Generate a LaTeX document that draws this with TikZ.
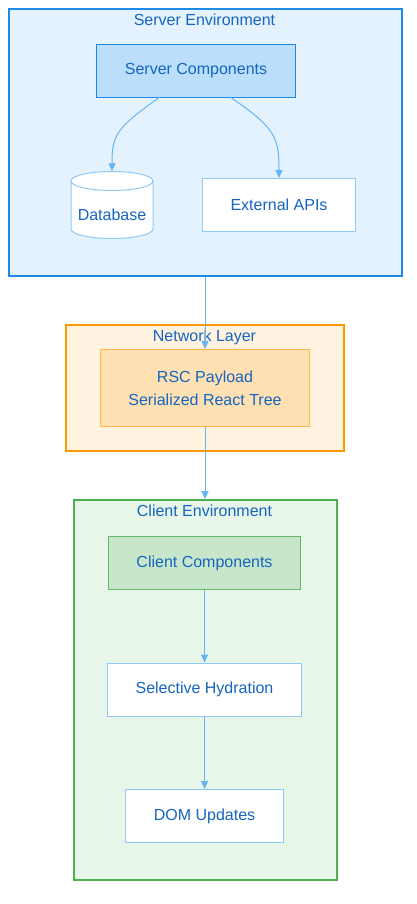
\documentclass[tikz,border=0pt]{standalone}
\usepackage{fontspec}
\setmainfont{Liberation Sans}
\usetikzlibrary{arrows.meta}
\definecolor{txtc}{HTML}{1565C0}
\definecolor{edgec}{HTML}{64B5F6}
\definecolor{srvfill}{HTML}{E3F2FD}
\definecolor{srvline}{HTML}{1E88E5}
\definecolor{scfill}{HTML}{BBDEFB}
\definecolor{netfill}{HTML}{FFF3E0}
\definecolor{netline}{HTML}{FF9800}
\definecolor{rscfill}{HTML}{FFE0B2}
\definecolor{rscline}{HTML}{FFB74D}
\definecolor{clifill}{HTML}{E8F5E9}
\definecolor{cliline}{HTML}{4CAF50}
\definecolor{ccfill}{HTML}{C8E6C9}
\definecolor{ccline}{HTML}{66BB6A}
\definecolor{plainline}{HTML}{90CAF9}
\tikzset{
  txt/.style={text=txtc, font=\fontsize{16}{19}\selectfont, inner sep=0pt},
  group/.style={draw, line width=2pt, inner sep=0pt, anchor=north west},
  boxnode/.style={draw, line width=1pt, inner sep=0pt, anchor=north west, txt, align=center},
  edge/.style={draw=edgec, line width=1pt, -{Triangle[length=8pt,width=7pt]}},
}
\begin{document}
\begin{tikzpicture}[x=1pt,y=-1pt]
\useasboundingbox (0,0) rectangle (417,904);
% groups
\node[group, draw=srvline, fill=srvfill, minimum width=393pt, minimum height=267pt] (srv) at (8,8) {};
\node[txt] (srvt) at (204.5,20) {Server Environment};
\node[group, draw=netline, fill=netfill, minimum width=278pt, minimum height=126pt] (net) at (65,324) {};
\node[txt] (nett) at (204.5,337) {Network Layer};
\node[group, draw=cliline, fill=clifill, minimum width=263pt, minimum height=380pt] (cli) at (73,499) {};
\node[txt] (clit) at (204.5,511) {Client Environment};
% server
\node[boxnode, draw=srvline, fill=scfill, minimum width=199pt, minimum height=53pt] (sc) at (96,44) {Server Components};
\node[boxnode, draw=plainline, fill=white, minimum width=153pt, minimum height=53pt] (api) at (202,178) {External APIs};
\node[inner sep=0pt, minimum width=82pt, minimum height=67pt] (db) at (112,205) {};
\draw[plainline, line width=1pt, fill=white] (71,181) -- (71,229)
  arc[start angle=180, end angle=360, x radius=41pt, y radius=9.5pt] -- (153,181)
  arc[start angle=0, end angle=180, x radius=41pt, y radius=9.5pt] -- cycle;
\draw[plainline, line width=1pt] (71,181) arc[start angle=180, end angle=360, x radius=41pt, y radius=9.5pt];
\node[txt] (dbl) at (112,214.5) {Database};
% network
\node[boxnode, draw=rscline, fill=rscfill, minimum width=209pt, minimum height=77pt] (rsc) at (100,349) {RSC Payload\\[4pt]Serialized React Tree};
% client
\node[boxnode, draw=ccline, fill=ccfill, minimum width=192pt, minimum height=53pt] (cc) at (108,536) {Client Components};
\node[boxnode, draw=plainline, fill=white, minimum width=194pt, minimum height=53pt] (sh) at (107,662.5) {Selective Hydration};
\node[boxnode, draw=plainline, fill=white, minimum width=158pt, minimum height=53pt] (dom) at (125,789) {DOM Updates};
% edges
\coordinate (scl) at (160,97);
\coordinate (scr) at (230,97);
\draw[edge] (scl) .. controls (116,128) and (112,135) .. (db.north);
\draw[edge] (scr) .. controls (276,128) and (279,138) .. (api.north -| 279,0);
\draw[edge] (srv.south -| rsc.north) -- (rsc.north);
\draw[edge] (rsc.south) -- (cli.north -| rsc.south);
\draw[edge] (cc) -- (sh);
\draw[edge] (sh) -- (dom);
\end{tikzpicture}
\end{document}
